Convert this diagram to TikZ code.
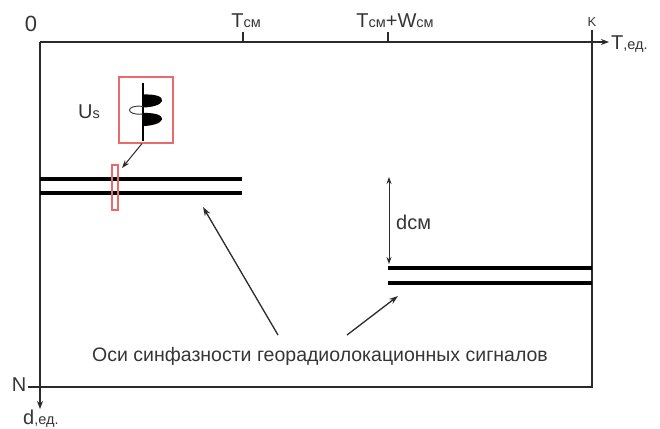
\documentclass[tikz,border=0pt]{standalone}
\usepackage{fontspec}
\setmainfont{Liberation Sans}
\usetikzlibrary{arrows.meta}
\definecolor{ink}{HTML}{2A2A2A}
\definecolor{txt}{HTML}{353535}
\definecolor{boxred}{HTML}{E86A6A}
\newcommand{\lbl}{\fontsize{20}{22}\selectfont}
\newcommand{\sml}{\fontsize{14.5}{16}\selectfont}
\begin{document}
\begin{tikzpicture}[x=1pt,y=-1pt,
  axis/.style={draw=ink,line width=1.4pt},
  horizon/.style={draw=black,line width=4pt},
  pointer/.style={draw=ink,line width=1.3pt,-{Stealth[length=9pt,width=6pt]}},
  redframe/.style={draw=boxred,line width=1.1pt},
  txtnode/.style={text=txt,inner sep=0pt,anchor=base}]
\useasboundingbox (0,0) rectangle (660,428);
% frame corners
\coordinate (tl) at (40,42);
\coordinate (tr) at (592,42);
\coordinate (bl) at (40,387);
\coordinate (br) at (592,387);
\coordinate (tend) at (609,42);
\coordinate (dend) at (40,409);
\coordinate (ktop) at (592,30);
\coordinate (ntick) at (28,387);
% frame and axes
\draw[axis] (bl) -- (br) -- (ktop);
\draw[axis,-{Stealth[length=8pt,width=6pt]}] (tl) -- (tend);
\draw[axis,-{Stealth[length=8pt,width=6pt]}] (tl) -- (dend);
\draw[axis] (ntick) -- (bl);
% ticks on the time axis
\coordinate (t1) at (243,42);
\coordinate (t1u) at (243,32);
\coordinate (t2) at (388,42);
\coordinate (t2u) at (388,32);
\draw[axis,line width=1.1pt] (t1) -- (t1u);
\draw[axis,line width=1.1pt] (t2) -- (t2u);
% axis labels
\node[txtnode] (zero) at (31,31) {\fontsize{22}{24}\selectfont 0};
\node[txtnode] (tcm) at (246,28) {\lbl T{\sml см}};
\node[txtnode] (tw) at (395,28) {\lbl T{\sml см}+W{\sml см}};
\node[txtnode] (kk) at (592,27) {\fontsize{13}{14}\selectfont K};
\node[txtnode,anchor=base west] (tax) at (611,49) {\lbl T{\sml ,ед.}};
\node[txtnode] (nn) at (19,391) {\lbl N};
\node[txtnode,anchor=base west] (dax) at (23,424) {\lbl d{\sml ,ед.}};
% phase axes
\draw[horizon] (40,179) -- (242,179);
\draw[horizon] (40,193) -- (242,193);
\draw[horizon] (388,268) -- (592,268);
\draw[horizon] (388,283) -- (592,283);
% trace window and wavelet
\node[redframe,minimum width=6pt,minimum height=45pt,inner sep=0pt] (win) at (115,187.5) {};
\node[redframe,minimum width=54pt,minimum height=66pt,inner sep=0pt] (wbox) at (146,110) {};
\draw[black,line width=1.3pt] (143,83) -- (143,141);
\fill[black] (143,94.5) .. controls (157,94) and (163,97) .. (162,101)
  .. controls (161,105) and (151,107.5) .. (143,107.5) -- cycle;
\fill[black] (143,113) .. controls (157,112.5) and (163,116) .. (162,119.5)
  .. controls (161,123.5) and (151,126) .. (143,126) -- cycle;
\draw[black!80,line width=0.9pt] (143,106.5) .. controls (125,104) and (125,116) .. (143,114);
\node[txtnode] (us) at (89,118) {\lbl U{\sml s}};
\draw[pointer,line width=1pt,-{Stealth[length=8pt,width=5.5pt]}] (wbox.south) ++(-4,0) coordinate (wb) (wb) -- (122,168) coordinate (wt);
% offset between axes
\coordinate (da) at (389,177);
\coordinate (db) at (389,264);
\draw[draw=ink,line width=0.9pt,{Stealth[length=7pt,width=5pt]}-{Stealth[length=7pt,width=5pt]}] (da) -- (db);
\node[txtnode,anchor=base west] (dcm) at (396,229) {\lbl dсм};
% caption and its pointers
\node[txtnode] (cap) at (320,361) {\fontsize{19.5}{22}\selectfont Оси синфазности георадиолокационных сигналов};
\coordinate (p1) at (278,335);
\coordinate (p1t) at (203,207);
\coordinate (p2) at (347,335);
\coordinate (p2t) at (398,296);
\draw[pointer] (p1) -- (p1t);
\draw[pointer] (p2) -- (p2t);
\end{tikzpicture}
\end{document}
